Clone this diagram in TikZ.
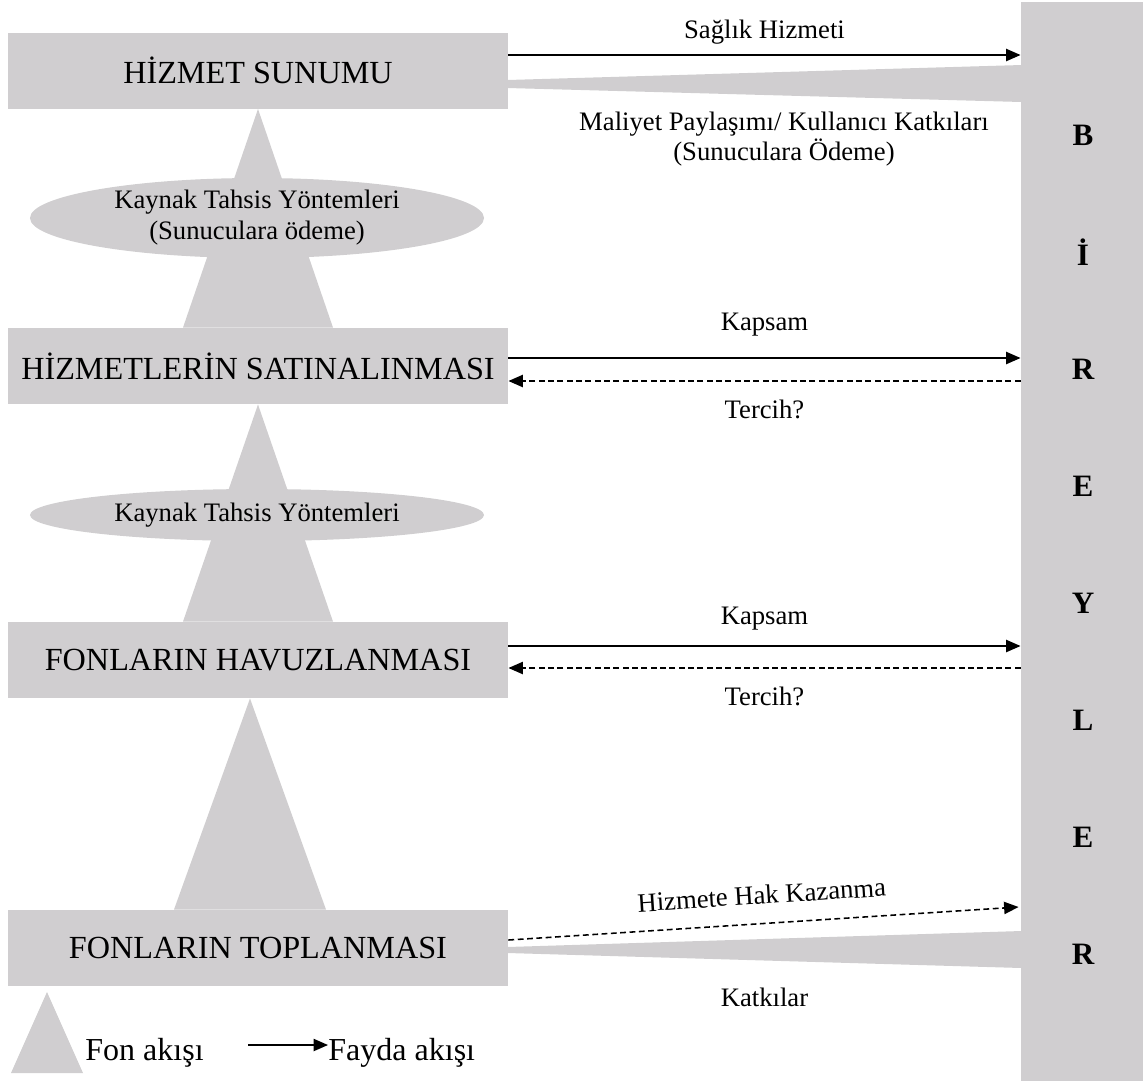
\documentclass[tikz,border=0pt]{standalone}
\usepackage{fontspec}
\setmainfont{Liberation Serif}
\usetikzlibrary{shapes.geometric, arrows.meta, calc, backgrounds}
\definecolor{fongri}{RGB}{208,206,208}

\begin{document}
\begin{tikzpicture}[x = 0.45pt, y = -0.45pt,
  kutu/.style = {fill = fongri, minimum width = 225pt, minimum height = 34.2pt, inner sep = 0pt, font = \fontsize{14.5}{16}\selectfont},
  elips/.style = {fill = fongri, ellipse, minimum width = 204.3pt, inner sep = 0pt, align = center},
  etiket/.style = {font = \fontsize{12}{14}\selectfont, align = center},
  harf/.style = {font = \fontsize{14}{16}\selectfont\bfseries},
  ok/.style = {-{Triangle[length = 6.5pt, width = 5.5pt]}, line width = 0.7pt},
  kesik/.style = {ok, dash pattern = on 2.6pt off 1.6pt}]

\useasboundingbox (0, 0) rectangle (1148, 1083);

\node [kutu] (sunum) at (258, 70.5) {HİZMET SUNUMU};
\node [kutu] (satin) at (258, 366) {HİZMETLERİN SATINALINMASI};
\node [kutu] (havuz) at (258, 660) {FONLARIN HAVUZLANMASI};
\node [kutu] (toplan) at (258, 948) {FONLARIN TOPLANMASI};

\node [fill = fongri, minimum width = 54.9pt, minimum height = 485.55pt, inner sep = 0pt] (birey) at (1082, 541.5) {};
\foreach \h [count = \i from 0] in {B, İ, R, E, Y, L, E, R}
  \node [harf] (harf\i) at (1083, 135 + 117.1 * \i) {\h};

\node [elips, minimum height = 36pt, font = \fontsize{12}{14}\selectfont] (tahsis1) at (257, 218) {Kaynak Tahsis Yöntemleri\\(Sunuculara ödeme)};
\node [elips, minimum height = 23.4pt, font = \fontsize{12}{14}\selectfont] (tahsis2) at (257, 515) {Kaynak Tahsis Yöntemleri};

\begin{scope}[on background layer]
\fill [fongri] (sunum.south) -- ($(satin.north) + (75, 0)$) -- ($(satin.north) + (-75, 0)$) -- cycle;
\fill [fongri] (satin.south) -- ($(havuz.north) + (75, 0)$) -- ($(havuz.north) + (-75, 0)$) -- cycle;
\fill [fongri] ($(havuz.south) + (-8, 0)$) -- ($(toplan.north) + (68, 0)$) -- ($(toplan.north) + (-84, 0)$) -- cycle;
\fill [fongri] ($(sunum.east) + (-1, 9.5)$) -- ($(sunum.east -| birey.west) + (1, -5.5)$) -- ($(sunum.east -| birey.west) + (1, 31.5)$) -- ($(sunum.east) + (-1, 17.5)$) -- cycle;
\fill [fongri] ($(toplan.east) + (-1, -1)$) -- ($(toplan.east -| birey.west) + (1, -17)$) -- ($(toplan.east -| birey.west) + (1, 20)$) -- ($(toplan.east) + (-1, 5)$) -- cycle;
\end{scope}

\draw [ok] ($(sunum.east) + (0, -15.5)$) -- ($(sunum.east -| birey.west) + (0, -15.5)$) node [etiket, midway, yshift = 10.4pt] {Sağlık Hizmeti};
\node [font = \fontsize{12}{12.2}\selectfont, align = center] (maliyet) at (784, 139) {Maliyet Paylaşımı/ Kullanıcı Katkıları\\(Sunuculara Ödeme)};

\draw [ok] ($(satin.east) + (0, -8)$) -- ($(satin.east -| birey.west) + (0, -8)$) node [etiket, midway, yshift = 14.9pt] {Kapsam};
\draw [kesik] ($(satin.east -| birey.west) + (0, 15)$) -- ($(satin.east) + (0, 15)$) node [etiket, midway, yshift = -13pt] {Tercih?};

\draw [ok] ($(havuz.east) + (0, -14)$) -- ($(havuz.east -| birey.west) + (0, -14)$) node [etiket, midway, yshift = 12.2pt] {Kapsam};
\draw [kesik] ($(havuz.east -| birey.west) + (0, 8)$) -- ($(havuz.east) + (0, 8)$) node [etiket, midway, yshift = -13pt] {Tercih?};

\draw [kesik] ($(toplan.east) + (0, -8)$) -- ($(toplan.east -| birey.west) + (-2, -41)$) node [etiket, midway, sloped, above = 5pt] {Hizmete Hak Kazanma};
\node [etiket] (katki) at ($(toplan.east)!0.5!(toplan.east -| birey.west) + (0, 49)$) {Katkılar};

\fill [fongri] (47, 992) -- (83, 1073) -- (11, 1073) -- cycle;
\node [anchor = base west, inner sep = 0pt, font = \fontsize{14.4}{16}\selectfont] (fon) at (85, 1060) {Fon akışı};
\node [anchor = base west, inner sep = 0pt, font = \fontsize{14.4}{16}\selectfont] (fayda) at (328, 1060) {Fayda akışı};
\coordinate (okbas) at (248, 1045);
\draw [ok] (okbas) -- (okbas -| fayda.west);

\end{tikzpicture}
\end{document}
